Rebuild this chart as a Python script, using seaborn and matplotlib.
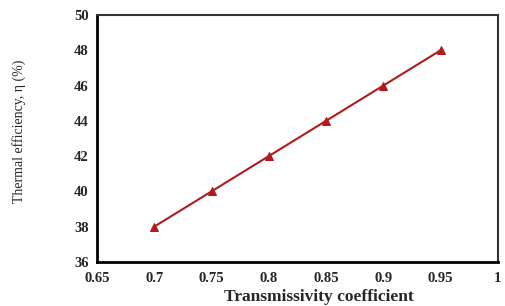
import matplotlib
matplotlib.use("Agg")
import matplotlib.pyplot as plt
import seaborn as sns
import pandas as pd

transmissivity = [0.70, 0.75, 0.80, 0.85, 0.90, 0.95]
efficiency = [38, 40, 42, 44, 46, 48]
x_ticks = [0.65, 0.7, 0.75, 0.8, 0.85, 0.9, 0.95, 1]
x_tick_labels = ["0.65", "0.7", "0.75", "0.8", "0.85", "0.9", "0.95", "1"]
y_ticks = [36, 38, 40, 42, 44, 46, 48, 50]

sns.set_style("white")
plt.rcParams['font.family'] = ['Liberation Serif', 'DejaVu Serif']

df = pd.DataFrame({"x": transmissivity, "y": efficiency})

fig = plt.figure(figsize=(5.05, 3.06), dpi=100)
ax = fig.add_axes([0.192, 0.144, 0.794, 0.807])
sns.lineplot(data=df, x="x", y="y", ax=ax, color="#b01c1c", marker="^",
             markersize=6, markeredgecolor="#b01c1c", linewidth=1.5)
ax.set_xlim(0.65, 1.0)
ax.set_ylim(36, 50)
ax.set_xticks(x_ticks)
ax.set_xticklabels(x_tick_labels, fontweight="bold", fontsize=10.5)
ax.set_yticks(y_ticks)
ax.set_yticklabels([str(v) for v in y_ticks], fontweight="bold", fontsize=10.5)
ax.tick_params(axis="both", direction="out", length=4, width=1.5, color="black", pad=2)
ax.tick_params(axis="x", pad=3)
for s in ["left", "bottom"]:
    ax.spines[s].set_linewidth(2)
    ax.spines[s].set_color("black")
for s in ["top", "right"]:
    ax.spines[s].set_linewidth(1.5)
    ax.spines[s].set_color("#333333")
ax.set_xlabel("")
ax.set_ylabel("")
fig.text(0.632, 0.004, "Transmissivity coefficient", fontweight="bold", fontsize=12.5,
         ha="center", va="bottom")
fig.text(0.038, 0.57, "Thermal efficiency, η (%)", fontsize=10,
         rotation=90, ha="center", va="center")
fig.savefig("out.png", dpi=100)
